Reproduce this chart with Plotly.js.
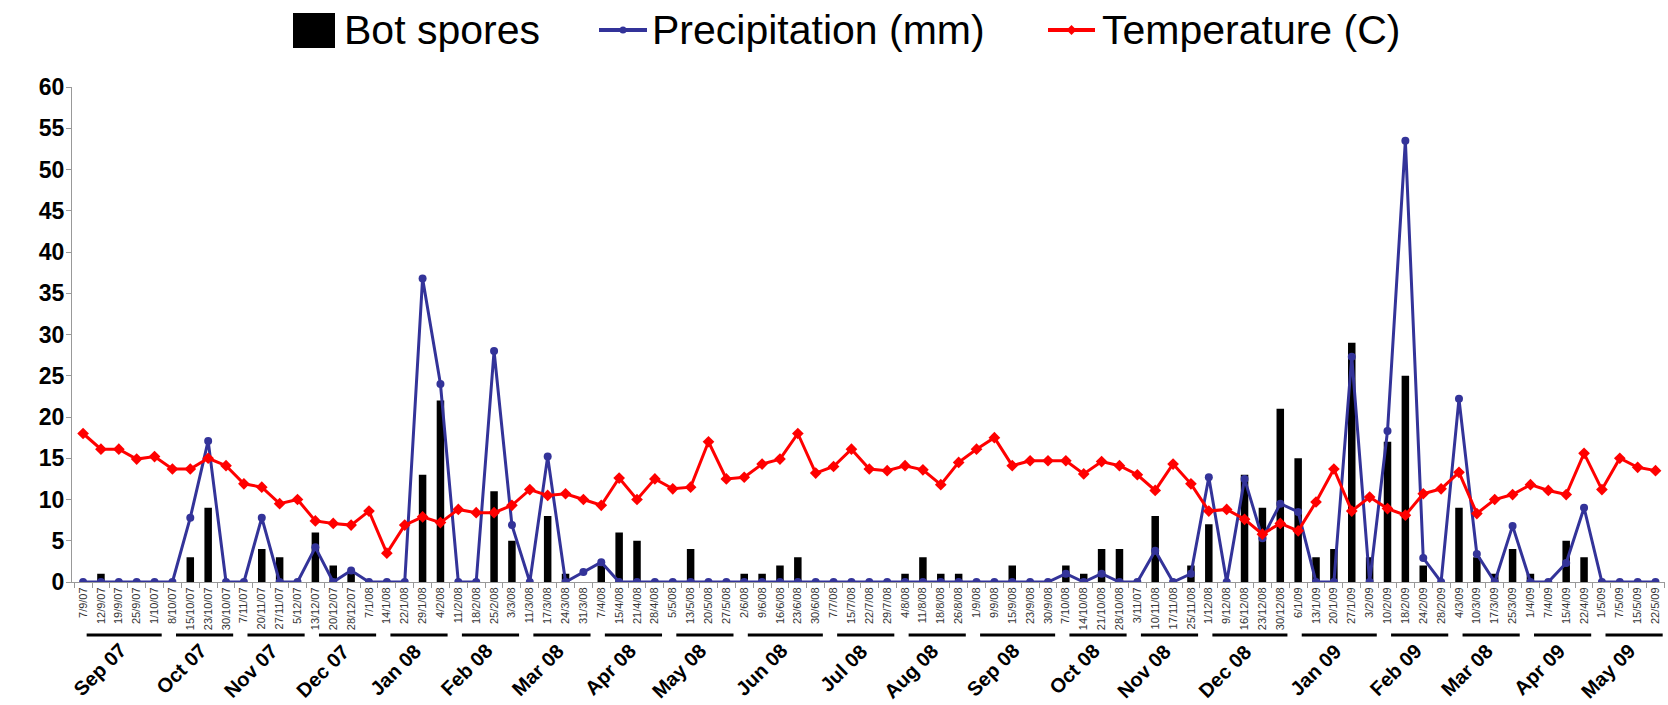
<!DOCTYPE html>
<html><head><meta charset="utf-8">
<script src="https://cdn.plot.ly/plotly-3.0.1.min.js"></script>
<style>html,body{margin:0;padding:0;background:#fff}#chart{width:1668px;height:705px}</style>
</head><body><div id="chart"></div>
<script>
const dates = ["7/9/07","12/9/07","19/9/07","25/9/07","1/10/07",
"8/10/07","15/10/07","23/10/07","30/10/07",
"7/11/07","20/11/07","27/11/07","5/12/07",
"13/12/07","20/12/07","28/12/07","7/1/08",
"14/1/08","22/1/08","29/1/08","4/2/08",
"11/2/08","18/2/08","25/2/08","3/3/08",
"11/3/08","17/3/08","24/3/08","31/3/08",
"7/4/08","15/4/08","21/4/08","28/4/08",
"5/5/08","13/5/08","20/5/08","27/5/08",
"2/6/08","9/6/08","16/6/08","23/6/08","30/6/08",
"7/7/08","15/7/08","22/7/08","29/7/08",
"4/8/08","11/8/08","18/8/08","26/8/08",
"1/9/08","9/9/08","15/9/08","23/9/08","30/9/08",
"7/10/08","14/10/08","21/10/08","28/10/08",
"3/11/07","10/11/08","17/11/08","25/11/08",
"1/12/08","9/12/08","16/12/08","23/12/08","30/12/08",
"6/1/09","13/1/09","20/1/09","27/1/09","3/2/09",
"10/2/09","18/2/09","24/2/09","28/2/09",
"4/3/09","10/3/09","17/3/09","25/3/09",
"1/4/09","7/4/09","15/4/09","22/4/09",
"1/5/09","7/5/09","15/5/09","22/5/09"];

const botSpores = [0,1,0,0,0, 0,3,9,0, 0,4,3,0, 6,2,1,0, 0,0,13,22, 0,0,11,5, 0,8,1,0, 2,6,5,0, 0,4,0,0, 1,1,2,3,0, 0,0,0,0, 1,3,1,1, 0,0,2,0,0, 2,1,4,4, 0,8,0,2, 7,0,13,9,21, 15,3,4,29,3, 17,25,2,0, 9,3,1,4, 1,0,5,3, 0,0,0,0];

const precipitation = [0,0,0,0,0, 0,7.8,17.1,0, 0,7.8,0,0, 4.2,0,1.4,0, 0,0,36.8,24.0, 0,0,28.0,6.9, 0,15.2,0,1.2, 2.4,0,0,0, 0,0,0,0, 0,0,0,0,0, 0,0,0,0, 0,0,0,0, 0,0,0,0,0, 1.0,0,1.0,0, 0,3.8,0,1.0, 12.7,0,12.5,5.3,9.5, 8.5,0,0,27.3,0, 18.3,53.5,2.9,0, 22.2,3.4,0,6.8, 0,0,2.3,9.0, 0,0,0,0];

const temperature = [18.0,16.1,16.1,14.9,15.2, 13.7,13.7,15.0,14.1, 11.9,11.5,9.5,10.0, 7.4,7.1,6.9,8.6, 3.5,6.9,7.9,7.2, 8.8,8.4,8.4,9.3, 11.2,10.5,10.7,10.0, 9.3,12.6,10.0,12.5, 11.3,11.5,17.0,12.5, 12.7,14.3,14.9,18.0,13.2, 14.0,16.1,13.7,13.5, 14.1,13.6,11.8,14.5, 16.1,17.5,14.1,14.7,14.7, 14.7,13.1,14.6,14.1, 13.0,11.1,14.3,11.9, 8.6,8.8,7.6,5.8,7.1, 6.2,9.7,13.7,8.6,10.3, 8.9,8.1,10.7,11.3, 13.3,8.3,10.0,10.6, 11.8,11.1,10.6,15.6, 11.2,15.0,13.9,13.5];

const monthLabels = ["Sep 07","Oct 07","Nov 07","Dec 07","Jan 08","Feb 08","Mar 08","Apr 08","May 08","Jun 08","Jul 08","Aug 08","Sep 08","Oct 08","Nov 08","Dec 08","Jan 09","Feb 09","Mar 08","Apr 09","May 09"];
const monthCounts = [5,4,4,4,4,4,4,4,4,5,4,4,5,4,4,5,5,4,4,4,4];

const seriesNames = ["Bot spores","Precipitation (mm)","Temperature (C)"];
const seriesColors = ["#000000","#333399","#FF0000"];

const FONT = "Liberation Sans, Arial, sans-serif";

// plot area geometry (px) used for placing the legend drawn above the plot
const W = 1668, H = 705, ML = 72, MR = 3, MT = 87, MB = 123;
const PW = W - ML - MR, PH = H - MT - MB;
const px = v => (v - ML) / PW;
const py = v => (H - MB - v) / PH;

const traces = [
  {type:'bar', name:seriesNames[0], x:dates, y:botSpores, marker:{color:seriesColors[0]}, width:0.42},
  {type:'scatter', mode:'lines+markers', name:seriesNames[1], x:dates, y:precipitation,
   line:{color:seriesColors[1], width:3}, marker:{color:seriesColors[1], size:8, symbol:'circle'}},
  {type:'scatter', mode:'lines+markers', name:seriesNames[2], x:dates, y:temperature,
   line:{color:seriesColors[2], width:3}, marker:{color:seriesColors[2], size:9, symbol:'diamond'}}
];

const annotations = [];
const shapes = [];
let start = 0;
for (let g = 0; g < monthLabels.length; g++) {
  const c = monthCounts[g];
  const center = start + (c - 1) / 2;
  annotations.push({text:monthLabels[g], x:center, xref:'x', y:0, yref:'paper',
    yshift:-55, xshift:14, xanchor:'right', yanchor:'top', textangle:-45, showarrow:false,
    font:{family:FONT, size:20, color:'#000', weight:'bold'}});
  shapes.push({type:'line', xref:'x', yref:'paper', x0:start+0.2, x1:start+c-1+0.4,
    y0:py(635), y1:py(635), line:{color:'#000', width:3}});
  start += c;
}

// legend (drawn manually to match the large key symbols)
const legY = 30;
const legItems = [
  {sym:[293,335], text:342},
  {sym:[599,647], text:650},
  {sym:[1048,1095], text:1100}
];
legItems.forEach((it, k) => {
  annotations.push({text:seriesNames[k], xref:'paper', yref:'paper', x:px(it.text), y:py(legY),
    xanchor:'left', yanchor:'middle', showarrow:false,
    font:{family:FONT, size:41, color:'#000'}});
  if (k === 0) {
    shapes.push({type:'rect', xref:'paper', yref:'paper', x0:px(it.sym[0]), x1:px(it.sym[1]),
      y0:py(48), y1:py(13), fillcolor:seriesColors[0], line:{width:0}});
  } else {
    const cx = (it.sym[0] + it.sym[1]) / 2;
    shapes.push({type:'line', xref:'paper', yref:'paper', x0:px(it.sym[0]), x1:px(it.sym[1]),
      y0:py(legY), y1:py(legY), line:{color:seriesColors[k], width:4}});
    if (k === 1) {
      shapes.push({type:'circle', xref:'paper', yref:'paper', x0:px(cx-3.5), x1:px(cx+3.5),
        y0:py(legY+3.5), y1:py(legY-3.5), fillcolor:seriesColors[k], line:{width:0}});
    } else {
      const p = (a,b) => px(a).toFixed(5) + ',' + py(b).toFixed(5);
      shapes.push({type:'path', xref:'paper', yref:'paper',
        path:'M' + p(cx, legY-5) + 'L' + p(cx+5, legY) + 'L' + p(cx, legY+5) + 'L' + p(cx-5, legY) + 'Z',
        fillcolor:seriesColors[k], line:{width:0}});
    }
  }
});

const layout = {
  width:W, height:H,
  margin:{l:ML, r:MR, t:MT, b:MB},
  paper_bgcolor:'#fff', plot_bgcolor:'#fff',
  showlegend:false,
  xaxis:{type:'category', categoryorder:'array', categoryarray:dates, range:[-0.62, 88.53],
    tickangle:-90, tickfont:{family:FONT, size:11, color:'#333'},
    ticks:'outside', ticklen:5, tickcolor:'#999', tickson:'boundaries',
    showline:true, linecolor:'#999', linewidth:1, showgrid:false, zeroline:false, fixedrange:true},
  yaxis:{range:[0,60], dtick:5, tick0:0, tickfont:{family:FONT, size:23, color:'#000', weight:'bold'},
    ticks:'outside', ticklen:5, tickcolor:'#999', showline:true, linecolor:'#999', linewidth:1,
    ticklabelstandoff:-3, showgrid:false, zeroline:false},
  annotations:annotations,
  shapes:shapes
};

Plotly.newPlot('chart', traces, layout, {displayModeBar:false, staticPlot:true});
</script></body></html>
